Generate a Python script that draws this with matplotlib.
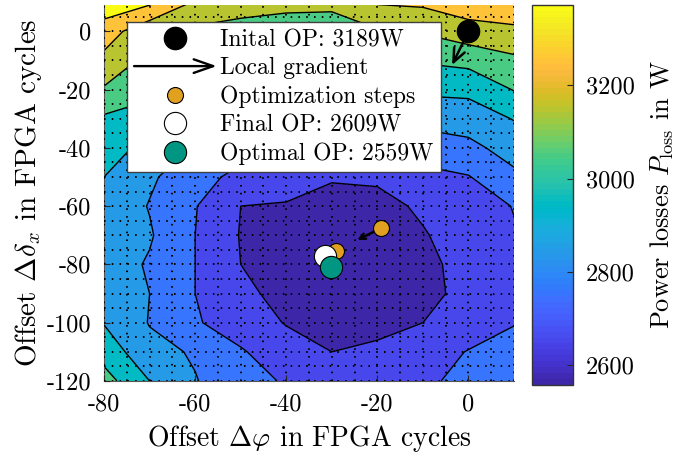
import numpy as np
import matplotlib
matplotlib.use("Agg")
import matplotlib.pyplot as plt
from matplotlib.colors import ListedColormap, Normalize
from matplotlib.cm import ScalarMappable
from matplotlib.legend_handler import HandlerBase
from matplotlib.patches import FancyArrowPatch
from matplotlib.lines import Line2D
from matplotlib.ticker import FuncFormatter

plt.rcParams["font.family"] = "cmr10"
plt.rcParams["mathtext.fontset"] = "cm"
plt.rcParams["axes.unicode_minus"] = False
plt.rcParams["axes.formatter.use_mathtext"] = True
plt.rcParams["font.size"] = 17.5

# measurement grid (offset phi in x, offset delta_x in y)
phi = [-80, -70, -60, -50, -40, -30, -20, -10, 0, 10]
delta_x = [10, 0, -10, -20, -30, -40, -50, -60, -70, -80, -90, -100, -110, -120]

# power losses in W, one row per delta_x value
p_loss = [
    [3370, 3320, 3190, 3150, 3130, 3120, 3210, 3220, 3260, 3270],
    [3250, 3130, 3080, 3060, 3050, 3060, 3090, 3110, 3160, 3180],
    [3175, 3070, 2990, 2970, 2960, 2960, 2990, 3010, 3030, 3080],
    [3090, 3030, 2910, 2880, 2870, 2860, 2890, 2920, 2925, 3005],
    [2985, 2950, 2850, 2810, 2790, 2780, 2800, 2830, 2845, 2905],
    [2930, 2880, 2790, 2745, 2720, 2710, 2720, 2750, 2775, 2840],
    [2900, 2815, 2740, 2670, 2660, 2605, 2610, 2670, 2695, 2780],
    [2870, 2795, 2705, 2600, 2590, 2580, 2580, 2610, 2640, 2705],
    [2850, 2810, 2700, 2595, 2580, 2570, 2570, 2595, 2630, 2690],
    [2850, 2790, 2700, 2600, 2575, 2560, 2570, 2585, 2620, 2670],
    [2860, 2800, 2700, 2615, 2580, 2570, 2575, 2590, 2610, 2680],
    [2895, 2795, 2710, 2650, 2595, 2580, 2585, 2600, 2640, 2695],
    [2960, 2830, 2790, 2710, 2640, 2600, 2610, 2650, 2705, 2740],
    [3040, 2900, 2805, 2740, 2690, 2650, 2640, 2680, 2730, 2790],
]

# operating points
init_op = (0, 0)
init_grad = (-3.6, -11.6)
step_x = [-19.1, -29.0]
step_y = [-67.5, -75.4]
step_grad = (-24.4, -71.6)
final_op = (-31.4, -77.1)
optimal_op = (-30.1, -80.9)

legend_labels = ["Inital OP: 3189W", "Local gradient", "Optimization steps",
                 "Final OP: 2609W", "Optimal OP: 2559W"]

parula = ListedColormap([
    [0.2422, 0.1504, 0.6603], [0.2504, 0.1650, 0.7076], [0.2578, 0.1818, 0.7511],
    [0.2647, 0.1978, 0.7952], [0.2706, 0.2147, 0.8364], [0.2751, 0.2342, 0.8710],
    [0.2783, 0.2559, 0.8991], [0.2803, 0.2782, 0.9221], [0.2813, 0.3006, 0.9414],
    [0.2810, 0.3228, 0.9579], [0.2795, 0.3447, 0.9717], [0.2760, 0.3667, 0.9829],
    [0.2699, 0.3892, 0.9906], [0.2602, 0.4123, 0.9952], [0.2440, 0.4358, 0.9988],
    [0.2206, 0.4603, 0.9973], [0.1963, 0.4847, 0.9892], [0.1834, 0.5074, 0.9798],
    [0.1786, 0.5289, 0.9682], [0.1764, 0.5499, 0.9520], [0.1687, 0.5703, 0.9359],
    [0.1540, 0.5902, 0.9218], [0.1460, 0.6091, 0.9079], [0.1380, 0.6276, 0.8973],
    [0.1248, 0.6459, 0.8883], [0.1113, 0.6635, 0.8763], [0.0952, 0.6798, 0.8598],
    [0.0689, 0.6948, 0.8394], [0.0297, 0.7082, 0.8163], [0.0036, 0.7203, 0.7917],
    [0.0067, 0.7312, 0.7660], [0.0433, 0.7411, 0.7394], [0.0964, 0.7500, 0.7120],
    [0.1408, 0.7584, 0.6842], [0.1717, 0.7670, 0.6554], [0.1938, 0.7758, 0.6251],
    [0.2161, 0.7843, 0.5923], [0.2470, 0.7918, 0.5567], [0.2906, 0.7973, 0.5188],
    [0.3406, 0.8008, 0.4789], [0.3909, 0.8029, 0.4354], [0.4456, 0.8024, 0.3909],
    [0.5044, 0.7993, 0.3480], [0.5616, 0.7942, 0.3045], [0.6174, 0.7876, 0.2612],
    [0.6720, 0.7793, 0.2227], [0.7242, 0.7698, 0.1910], [0.7738, 0.7598, 0.1646],
    [0.8203, 0.7498, 0.1535], [0.8634, 0.7406, 0.1596], [0.9035, 0.7330, 0.1774],
    [0.9393, 0.7288, 0.2100], [0.9728, 0.7298, 0.2394], [0.9956, 0.7434, 0.2371],
    [0.9970, 0.7659, 0.2199], [0.9952, 0.7893, 0.2028], [0.9892, 0.8136, 0.1885],
    [0.9786, 0.8386, 0.1766], [0.9676, 0.8639, 0.1643], [0.9610, 0.8890, 0.1537],
    [0.9597, 0.9135, 0.1423], [0.9628, 0.9373, 0.1265], [0.9691, 0.9606, 0.1064],
    [0.9769, 0.9839, 0.0805]])


class ArrowHandler(HandlerBase):
    def create_artists(self, legend, orig_handle, xdescent, ydescent,
                       width, height, fontsize, trans):
        y = height / 2 - ydescent
        arr = FancyArrowPatch((-xdescent, y), (width - xdescent, y),
                              arrowstyle="->,head_length=1.0,head_width=0.35",
                              mutation_scale=14, lw=1.7, color="k",
                              shrinkA=0, shrinkB=0, transform=trans)
        return [arr]


fig = plt.figure(figsize=(6.94, 4.57), dpi=100)
ax = fig.add_axes([0.1499, 0.1663, 0.5908, 0.8228])
cax = fig.add_axes([0.7666, 0.1575, 0.0591, 0.8315])

norm = Normalize(2558, 3372)
X, Y = np.meshgrid(phi, delta_x)
Z = np.array(p_loss)
levels = np.arange(2600, 3301, 100)
fill_levels = np.concatenate([[2400], levels, [3500]])
ax.contourf(X, Y, Z, levels=fill_levels, cmap=parula, norm=norm, zorder=1)
ax.contour(X, Y, Z, levels=levels, colors="k", linewidths=1.0, zorder=2)

ax.set_xlim(-80, 10)
ax.set_ylim(-120, 9)
ax.set_xticks([-80, -60, -40, -20, 0])
ax.set_yticks([-120, -100, -80, -60, -40, -20, 0])
ax.set_xticks(np.arange(-80, 11, 5), minor=True)
ax.set_yticks(np.arange(-120, 10, 5), minor=True)
fmt = FuncFormatter(lambda v, p: "%d" % v)
ax.xaxis.set_major_formatter(fmt)
ax.yaxis.set_major_formatter(fmt)
ax.set_axisbelow(False)
ax.grid(True, which="both", color="k", lw=1.4, ls=(0, (0.8, 3.2)))
ax.tick_params(which="major", direction="in", length=4, color="#262626", pad=9)
ax.tick_params(which="minor", length=0)
for s in ["top", "right"]:
    ax.spines[s].set_visible(False)
for s in ["left", "bottom"]:
    ax.spines[s].set_color("#555555")
    ax.spines[s].set_linewidth(0.8)

ax.set_xlabel(r"Offset $\Delta\varphi$ in FPGA cycles", fontsize=20, labelpad=5)
ax.set_ylabel(r"Offset $\Delta\delta_x$ in FPGA cycles", fontsize=21, labelpad=2)

# gradients
ax.annotate("", xy=init_grad, xytext=init_op,
            arrowprops=dict(arrowstyle="->,head_length=0.7,head_width=0.3",
                            mutation_scale=14, lw=1.8, color="k",
                            shrinkA=0, shrinkB=0), zorder=5)
ax.annotate("", xy=step_grad, xytext=(step_x[0], step_y[0]),
            arrowprops=dict(arrowstyle="->,head_length=0.4,head_width=0.2",
                            mutation_scale=10, lw=1.8, color="k",
                            shrinkA=0, shrinkB=0), zorder=5)

ax.plot(*init_op, "o", ms=16, mfc="k", mec="k", zorder=6)
ax.plot(step_x, step_y, "o", ls="none", ms=11.5, mfc="#e1a01f", mec="k", mew=0.8, zorder=6)
ax.plot(*final_op, "o", ms=16, mfc="white", mec="k", mew=0.8, zorder=7)
ax.plot(*optimal_op, "o", ms=16, mfc="#009682", mec="k", mew=0.8, zorder=8)

handles = [
    Line2D([], [], ls="none", marker="o", ms=16, mfc="k", mec="k"),
    FancyArrowPatch((0, 0), (1, 0)),
    Line2D([], [], ls="none", marker="o", ms=11.5, mfc="#e1a01f", mec="k", mew=0.8),
    Line2D([], [], ls="none", marker="o", ms=16, mfc="white", mec="k", mew=0.8),
    Line2D([], [], ls="none", marker="o", ms=16, mfc="#009682", mec="k", mew=0.8),
]
leg = ax.legend(handles, legend_labels, loc="upper left", fontsize=17,
                bbox_to_anchor=(0.056, 0.561, 0.766, 0.394), mode="expand",
                borderaxespad=0, handlelength=3.5, handletextpad=0.13,
                labelspacing=0.26, borderpad=0.3, fancybox=False,
                edgecolor="#404040", framealpha=1,
                handler_map={FancyArrowPatch: ArrowHandler()})
leg.get_frame().set_linewidth(1.0)
leg.set_zorder(10)

cb = fig.colorbar(ScalarMappable(norm=norm, cmap=parula), cax=cax)
cb.set_ticks([2600, 2800, 3000, 3200])
cb.ax.yaxis.set_major_formatter(fmt)
cb.ax.tick_params(direction="in", length=4, color="#262626", pad=9)
cb.outline.set_edgecolor("#333333")
cb.outline.set_linewidth(1.0)
cb.set_label(r"Power losses $P_\mathrm{loss}$ in W", fontsize=19, labelpad=10)

fig.savefig("out.png", dpi=100)
